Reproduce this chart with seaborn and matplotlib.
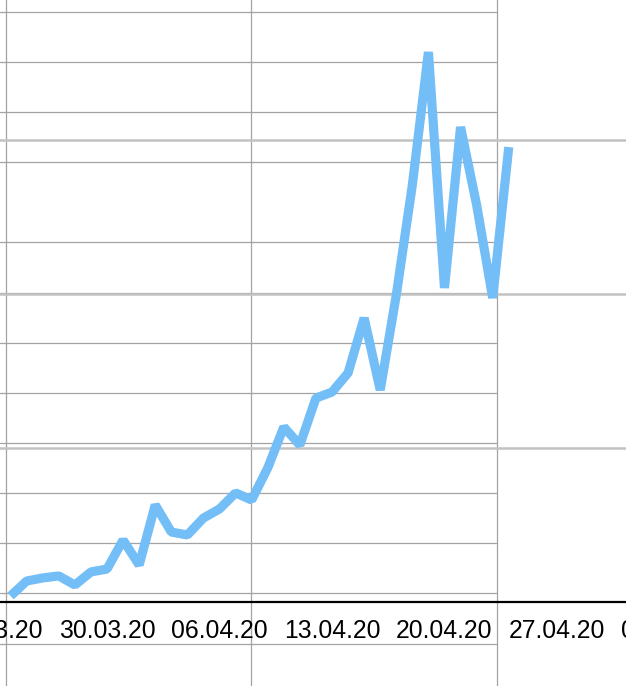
import pandas as pd
import matplotlib
matplotlib.use("Agg")
import matplotlib.pyplot as plt
import matplotlib.dates as mdates
from matplotlib.lines import Line2D
import seaborn as sns

# daily values, 24.03.20 - 24.04.20 (gridlines every 1000)
start_date = "2020-03-24"
values = [36, 133, 153, 166, 107, 192, 211, 399, 237, 627,
          451, 432, 542, 601, 705, 659, 867, 1133, 1016, 1321,
          1360, 1484, 1841, 1373, 1990, 2705, 3568, 2036, 3081, 2575,
          1971, 2951]
tick_dates = ["2020-03-23", "2020-03-30", "2020-04-06", "2020-04-13",
              "2020-04-20", "2020-04-27", "2020-05-04"]
grid_values = [1000, 2000, 3000]

df = pd.DataFrame({
    "date": pd.date_range(start_date, periods=len(values), freq="D"),
    "value": values,
})

W, H = 626, 686
sns.set_style("white")
plt.rcParams["font.family"] = ["Liberation Sans", "DejaVu Sans"]

fig = plt.figure(figsize=(W / 100, H / 100), dpi=100)
axis_y = 601.5
# the chart is wider than the screenshot: its edges (and edge labels) are cut off
ax_left, ax_right = -60, 700
ax = fig.add_axes([ax_left / W, (H - axis_y) / H, (ax_right - ax_left) / W, axis_y / H])
ax.set_zorder(1)
ax.patch.set_alpha(0)

# spreadsheet cell lines behind the chart
sheet_rows = [12, 62, 112, 162, 242, 293, 343, 393, 443, 493, 543, 593, 644]
sheet_cols = [6, 251, 497]
for r in sheet_rows:
    fig.add_artist(Line2D([0, 497 / W], [1 - r / H, 1 - r / H], color="#a3a3a3",
                          lw=0.9, zorder=0))
for c in sheet_cols:
    fig.add_artist(Line2D([c / W, c / W], [0, 1], color="#a3a3a3", lw=0.9, zorder=0))

sns.lineplot(data=df, x="date", y="value", ax=ax, color="#74bef8", linewidth=6.6,
             solid_joinstyle="bevel", solid_capstyle="butt", zorder=3)

for g in grid_values:
    ax.axhline(g, color="#c2c2c2", lw=1.8, zorder=2)

ax.set_xticks(pd.to_datetime(tick_dates))
ax.xaxis.set_major_formatter(mdates.DateFormatter("%d.%m.%y"))

# limits after the ticks, otherwise set_xticks widens the view
px_per_day = 16.07
first_x = 10.6
d0 = pd.Timestamp(start_date)
ax.set_xlim(d0 + pd.Timedelta(days=(ax_left - first_x) / px_per_day),
            d0 + pd.Timedelta(days=(ax_right - first_x) / px_per_day))
ax.set_ylim(0, axis_y / 154 * 1000)

ax.tick_params(axis="x", length=0, pad=12.4, labelsize=17.8, colors="black")
ax.set_yticks([])
ax.set_xlabel("")
ax.set_ylabel("")
for s in ["top", "left", "right"]:
    ax.spines[s].set_visible(False)
ax.spines["bottom"].set_color("black")
ax.spines["bottom"].set_linewidth(1.6)

fig.savefig("out.png", dpi=100)
